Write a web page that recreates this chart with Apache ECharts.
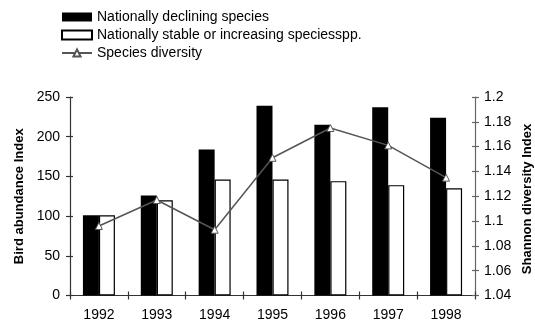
<!DOCTYPE html>
<html><head><meta charset="utf-8">
<script src="https://cdn.jsdelivr.net/npm/echarts@6/dist/echarts.min.js"></script>
<style>html,body{margin:0;padding:0;background:#fff}#c{width:535px;height:324px}</style>
</head><body><div id="c"></div>
<script>
const years = ['1992','1993','1994','1995','1996','1997','1998'];
const declining = [101, 126, 184, 239, 215, 237, 224];
const stable = [101, 120, 146, 146, 144, 139, 135];
const diversity = [1.096, 1.117, 1.093, 1.151, 1.175, 1.161, 1.135];
const leftTicks = {min: 0, max: 250, interval: 50};
const rightTicks = {min: 1.04, max: 1.2, interval: 0.02};
const names = ['Nationally declining species', 'Nationally stable or increasing speciesspp.', 'Species diversity'];
const rightAxisName = 'Shannon diversity Index';

const chart = echarts.init(document.getElementById('c'), null, {renderer: 'canvas'});
const font = 'Liberation Sans, Arial, sans-serif';
chart.setOption({
  animation: false,
  textStyle: {fontFamily: font},
  legend: {
    orient: 'vertical', left: 56, top: 5, itemWidth: 30, itemHeight: 9, itemGap: 4,
    textStyle: {fontSize: 14, color: '#000', fontFamily: font},
    data: [{name: names[0], icon: 'rect'}, {name: names[1], icon: 'rect'}, {name: names[2]}]
  },
  grid: {left: 70, right: 60, top: 97, bottom: 28.5},
  graphic: [{
    type: 'text', x: 527, y: 199, rotation: Math.PI / 2,
    style: {text: rightAxisName, font: 'bold 13px Liberation Sans, Arial, sans-serif', fill: '#000',
      align: 'center', verticalAlign: 'middle'}
  }],
  xAxis: [{
    type: 'category', data: years,
    axisLine: {lineStyle: {color: '#333', width: 1.2}},
    axisTick: {show: true, length: 4, inside: false, lineStyle: {color: '#333', width: 1.2}},
    axisLabel: {color: '#000', fontSize: 14, margin: 13, fontFamily: font}
  }, {
    type: 'category', data: years, position: 'bottom',
    axisLine: {show: false},
    axisTick: {show: true, length: 4, inside: true, lineStyle: {color: '#333', width: 1.2}},
    axisLabel: {show: false}
  }],
  yAxis: [{
    type: 'value', min: leftTicks.min, max: leftTicks.max, interval: leftTicks.interval, position: 'left',
    name: 'Bird abundance Index', nameLocation: 'middle', nameGap: 44, nameRotate: 90,
    nameTextStyle: {fontSize: 13, fontWeight: 'bold', color: '#000', fontFamily: font},
    axisLine: {show: true, lineStyle: {color: '#333', width: 1.2}},
    axisTick: {show: true, length: 4, lineStyle: {color: '#333', width: 1.2}},
    axisLabel: {color: '#000', fontSize: 14, margin: 10, fontFamily: font},
    splitLine: {show: false}
  }, {
    type: 'value', min: rightTicks.min, max: rightTicks.max, interval: rightTicks.interval, position: 'right',
    axisLine: {show: true, lineStyle: {color: '#666', width: 1.2}},
    axisTick: {show: true, length: 4, lineStyle: {color: '#666', width: 1.2}},
    axisLabel: {color: '#000', fontSize: 14, margin: 9, fontFamily: font,
      formatter: v => String(parseFloat(v.toFixed(2)))},
    splitLine: {show: false}
  }, {
    type: 'value', min: leftTicks.min, max: leftTicks.max, interval: leftTicks.interval, position: 'left',
    axisLine: {show: false}, axisLabel: {show: false}, splitLine: {show: false},
    axisTick: {show: true, inside: true, length: 3, lineStyle: {color: '#333', width: 1.2}}
  }, {
    type: 'value', min: rightTicks.min, max: rightTicks.max, interval: rightTicks.interval, position: 'right',
    axisLine: {show: false}, axisLabel: {show: false}, splitLine: {show: false},
    axisTick: {show: true, inside: true, length: 3, lineStyle: {color: '#666', width: 1.2}}
  }],
  series: [{
    name: names[0], type: 'bar', data: declining, yAxisIndex: 0, barWidth: 16, barGap: '0%',
    itemStyle: {color: '#000', borderColor: '#000', borderWidth: 0}
  }, {
    name: names[1], type: 'bar', data: stable, yAxisIndex: 0, barWidth: 16,
    itemStyle: {color: '#fff', borderColor: '#000', borderWidth: 1.2}
  }, {
    name: names[2], type: 'line', data: diversity, yAxisIndex: 1, z: 5,
    symbol: 'triangle', symbolSize: 7,
    lineStyle: {color: '#555', width: 1.5},
    itemStyle: {color: '#fff', borderColor: '#555', borderWidth: 1}
  }]
});
</script></body></html>
